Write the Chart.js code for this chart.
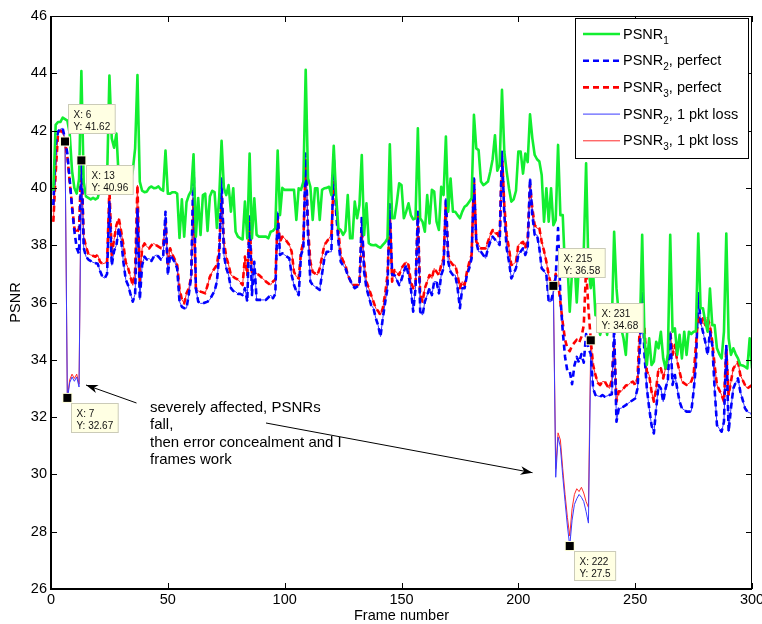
<!DOCTYPE html>
<html>
<head>
<meta charset="utf-8">
<title>PSNR per frame</title>
<script src="https://cdn.jsdelivr.net/npm/chart.js@4.4.1/dist/chart.umd.min.js"></script>
<style>
  html, body { margin: 0; padding: 0; background: #ffffff; }
  #box { width: 762px; height: 624px; }
</style>
</head>
<body>
<div id="box"><canvas id="psnr" width="762" height="624"></canvas></div>
<script>
// ---------------- data ----------------
// PSNR1, one value per frame (frames 1..300)
const psnr1 = [
  39.9,42.2,42.3,42.3,42.45,42.4,42.35,41.9,40.6,40.0,
  39.8,40.3,44.08,40.2,39.7,39.65,39.6,39.65,39.6,39.65,
  40.0,40.0,40.0,40.3,43.92,41.73,41.4,41.9,40.33,40.16,
  40.16,40.2,40.16,40.2,40.6,41.38,43.94,40.22,39.9,39.85,
  39.87,40.0,40.05,39.99,40.0,40.05,39.95,39.9,41.3,39.8,
  39.8,39.85,39.85,39.8,38.25,39.6,38.3,39.5,39.75,39.9,
  41.17,38.3,39.65,38.36,39.75,39.8,38.5,39.7,39.9,39.85,
  38.6,39.7,41.64,39.99,39.75,40.1,39.17,39.99,38.47,38.3,
  38.24,38.2,39.52,38.24,41.2,38.24,39.64,38.36,38.3,38.3,
  38.3,38.3,38.24,38.47,38.5,38.6,41.3,39.05,40.0,39.93,
  39.93,39.93,39.93,39.93,38.88,39.99,39.93,40.22,44.12,40.33,
  40.04,38.88,39.99,39.99,38.88,39.93,39.99,40.0,40.04,39.75,
  41.47,39.75,38.59,38.53,38.36,38.5,39.75,38.24,38.24,39.52,
  38.94,39.4,41.15,38.36,39.46,38.07,38.01,38.0,38.01,37.95,
  37.91,38.01,38.1,38.24,41.52,38.94,38.94,39.5,40.16,40.1,
  38.94,39.17,39.46,39.05,38.9,38.94,42.08,38.94,38.82,38.47,
  39.75,38.76,39.93,39.87,38.82,38.53,40.04,39.75,41.79,39.17,
  40.33,39.17,39.17,39.05,38.94,39.17,39.34,39.4,39.52,39.64,
  42.55,41.38,41.32,40.22,40.1,40.15,40.22,40.57,41.0,41.84,
  40.6,40.8,43.42,41.27,40.57,39.99,39.52,39.6,39.9,41.27,
  41.27,40.5,41.2,40.9,42.57,41.73,41.15,41.0,40.92,40.45,
  38.82,39.99,38.82,39.99,38.7,38.88,41.5,39.05,39.05,37.1,
  37.4,35.68,37.1,37.5,36.0,37.4,37.2,37.8,40.86,37.19,
  36.5,37.07,35.56,35.56,34.87,35.2,35.56,34.87,35.56,35.2,
  38.47,36.5,35.56,35.1,34.75,34.17,35.56,35.5,35.56,35.56,
  35.2,35.0,38.36,34.75,33.82,34.75,33.82,33.94,34.63,34.4,
  34.98,34.05,33.7,34.2,38.36,34.98,35.1,34.17,34.87,34.05,
  34.98,34.17,34.98,34.9,34.98,35.0,38.41,35.8,35.8,35.33,
  34.98,36.49,35.21,35.21,34.4,34.2,34.05,34.98,38.41,34.75,
  34.17,34.4,34.2,34.05,33.82,33.8,33.76,33.7,34.75,33.7
];

// PSNR2 without loss, [frame, dB]
const psnr2Perfect = [
  [1,39.4],[2,41.5],[3,41.96],[4,42.05],[5,42.08],[6,41.7],[7,41.2],[8,40.3],[9,39.3],[10,38.5],
  [11,37.9],[12,37.7],[13,41.0],[14,37.9],[15,37.6],[16,37.5],[18,37.4],[20,37.35],[21,37.1],[22,36.9],
  [23,36.85],[24,37.0],[25,39.5],[26,37.3],[27,37.8],[28,38.0],[29,38.6],[30,38.2],[31,37.4],[32,36.8],
  [33,36.6],[34,36.3],[35,36.03],[36,36.3],[37,39.3],[38,36.1],[39,37.3],[40,37.6],[41,37.5],[42,37.54],
  [43,37.45],[44,37.6],[45,37.66],[46,37.6],[47,37.5],[48,37.6],[49,39.17],[50,36.96],[51,37.66],[52,37.54],
  [53,37.4],[54,37.19],[55,36.03],[56,35.85],[57,35.8],[58,35.8],[59,36.3],[60,36.9],[61,40.92],[62,36.5],
  [63,36.03],[64,35.97],[65,35.97],[66,36.0],[67,36.03],[68,36.1],[69,36.26],[70,36.4],[71,36.73],[72,37.66],
  [73,40.33],[74,37.66],[75,37.2],[76,36.96],[77,36.5],[78,36.4],[79,36.38],[80,36.3],[81,36.3],[82,36.26],
  [83,36.5],[84,36.03],[85,39.0],[86,36.26],[87,37.42],[88,36.09],[89,36.09],[92,36.09],[94,36.26],[95,36.15],
  [96,36.3],[97,39.17],[98,37.66],[99,37.72],[100,37.66],[102,37.54],[103,36.96],[104,36.61],[105,36.4],[106,36.26],
  [107,37.66],[108,37.89],[109,41.2],[110,38.36],[111,36.73],[112,36.61],[114,36.5],[115,36.44],[116,37.0],[117,37.54],
  [118,37.77],[120,37.77],[121,41.15],[122,39.17],[123,38.12],[124,37.42],[125,37.3],[126,37.19],[127,36.96],[129,36.61],
  [130,36.5],[132,36.61],[133,38.99],[134,37.07],[135,36.5],[137,35.91],[138,35.8],[139,35.45],[140,35.2],[141,34.81],
  [142,35.45],[143,36.0],[144,36.5],[145,39.43],[146,36.96],[147,36.96],[149,36.61],[150,36.8],[151,37.07],[152,37.31],
  [153,36.96],[154,36.5],[155,35.68],[156,36.5],[157,39.17],[158,35.68],[159,35.56],[160,36.03],[161,36.26],[162,36.5],
  [163,36.26],[164,36.73],[165,36.73],[166,36.32],[167,36.96],[168,37.19],[169,39.64],[170,37.42],[171,37.07],[172,36.96],
  [173,36.96],[174,36.5],[175,35.8],[176,36.5],[177,36.5],[178,36.96],[179,37.2],[180,37.54],[181,40.33],[182,38.12],
  [183,37.77],[184,37.77],[186,37.54],[187,37.89],[188,38.12],[189,38.3],[190,38.2],[191,38.12],[192,38.01],[193,41.26],
  [194,39.05],[195,37.89],[196,37.42],[197,36.84],[198,37.0],[199,37.2],[200,37.66],[202,37.89],[203,37.66],[204,37.9],
  [205,40.33],[206,39.05],[207,38.36],[208,38.36],[209,37.89],[210,37.19],[211,37.1],[212,36.96],[213,36.03],[214,36.03],
  [215,36.4],[216,36.9],[217,38.6],[218,36.2],[219,35.0],[220,34.1],[221,33.6],[222,33.6],[223,33.15],[224,33.8],
  [225,34.1],[226,33.9],[227,34.2],[228,33.9],[229,34.9],[230,34.4],[231,34.2],[232,33.0],[233,32.77],[235,32.71],
  [236,32.77],[237,32.71],[239,32.77],[240,32.8],[241,35.1],[242,31.84],[243,32.3],[244,32.31],[246,32.42],[248,32.54],
  [250,32.65],[251,33.0],[252,34.4],[253,36.32],[254,34.17],[255,33.0],[256,32.31],[257,31.72],[258,31.43],[259,32.31],
  [260,33.12],[261,33.0],[262,32.54],[263,33.0],[264,33.3],[265,34.98],[266,33.12],[267,33.47],[268,33.0],[269,32.54],
  [270,32.31],[272,32.19],[274,32.19],[275,32.89],[276,33.8],[277,36.32],[278,35.33],[279,34.98],[280,34.63],[281,34.17],
  [282,34.98],[283,34.52],[284,33.0],[285,31.72],[286,31.6],[287,31.49],[288,31.84],[289,34.52],[290,31.49],[291,32.31],
  [292,33.0],[293,33.2],[294,33.35],[295,32.89],[296,32.6],[297,32.31],[298,32.19],[299,32.15],[300,32.12]
];

// PSNR3 without loss, [frame, dB]
const psnr3Perfect = [
  [1,38.82],[2,40.5],[3,41.9],[4,42.0],[5,41.95],[6,41.62],[7,41.1],[8,40.2],[9,39.4],[10,38.6],
  [11,38.4],[12,38.6],[13,40.96],[14,38.3],[15,37.95],[16,37.7],[17,37.66],[19,37.6],[20,37.66],[21,37.42],
  [22,37.35],[24,37.4],[25,39.98],[26,37.66],[27,38.2],[28,38.7],[29,38.94],[30,38.5],[31,38.0],[32,37.4],
  [33,37.2],[34,36.9],[35,36.6],[36,37.1],[37,40.1],[38,36.73],[39,37.9],[40,38.06],[41,37.95],[42,37.89],
  [43,38.0],[44,38.06],[45,38.0],[46,37.95],[47,37.9],[48,38.0],[49,38.82],[50,37.31],[51,37.89],[52,37.66],
  [53,37.5],[54,37.31],[55,36.5],[56,36.1],[57,35.97],[58,36.32],[59,36.5],[60,36.9],[61,39.6],[62,36.5],
  [63,36.4],[64,36.38],[66,36.32],[67,36.6],[68,36.9],[69,37.07],[71,37.31],[72,37.89],[73,39.75],[74,38.12],
  [75,37.6],[76,37.31],[77,36.96],[79,36.84],[80,36.8],[82,36.61],[83,37.6],[84,36.96],[85,38.82],[86,37.07],
  [87,37.07],[89,36.96],[92,36.73],[94,36.61],[95,36.73],[96,36.8],[97,38.94],[98,38.12],[99,38.3],[100,38.24],
  [102,38.01],[103,37.77],[104,37.07],[105,36.9],[106,36.84],[107,37.77],[108,38.12],[109,40.97],[110,38.59],[111,37.42],
  [112,37.07],[114,36.96],[115,37.19],[116,37.6],[117,38.01],[118,38.12],[120,38.36],[121,40.2],[122,39.52],[123,38.47],
  [124,37.66],[125,37.45],[126,37.31],[127,36.96],[129,36.61],[130,36.61],[132,36.61],[133,38.47],[134,37.42],[135,36.73],
  [137,36.26],[138,36.03],[139,35.8],[140,35.7],[141,35.56],[142,35.8],[143,36.3],[144,36.96],[145,39.05],[146,36.73],
  [147,37.13],[149,36.96],[150,37.2],[151,37.31],[152,37.42],[153,37.31],[154,36.73],[155,36.5],[156,36.61],[157,39.05],
  [158,36.26],[159,36.03],[160,36.5],[161,36.73],[162,36.96],[163,36.84],[164,37.19],[165,37.07],[166,36.96],[167,37.31],
  [168,37.54],[169,39.52],[170,37.66],[171,37.42],[172,37.31],[173,37.31],[174,36.96],[175,36.5],[176,36.73],[177,36.61],
  [178,37.07],[179,37.4],[180,37.66],[181,40.33],[182,38.12],[183,38.01],[184,37.89],[186,37.89],[187,38.12],[188,38.36],
  [189,38.53],[190,38.4],[191,38.42],[192,38.24],[193,41.2],[194,39.4],[195,38.36],[196,37.89],[197,37.31],[198,37.35],
  [199,37.42],[200,38.01],[202,38.12],[203,37.89],[204,38.2],[205,40.1],[206,39.29],[207,38.7],[208,38.59],[209,38.59],
  [210,38.12],[211,37.8],[212,37.42],[213,36.96],[214,36.61],[215,36.58],[216,37.0],[217,36.7],[218,36.0],[219,35.3],
  [220,34.7],[221,34.4],[222,34.3],[223,34.5],[224,34.6],[225,34.7],[226,34.6],[227,34.8],[228,35.2],[229,37.2],
  [230,35.8],[231,34.68],[232,33.82],[233,33.47],[234,33.2],[235,33.12],[236,33.24],[237,33.24],[238,33.1],[239,33.0],
  [240,33.3],[241,34.6],[242,32.54],[243,32.9],[244,32.89],[245,33.0],[246,33.1],[247,33.12],[248,33.2],[249,33.24],
  [250,33.12],[251,33.35],[252,35.21],[253,35.56],[254,35.1],[255,33.59],[256,33.47],[257,32.89],[258,32.54],[259,33.0],
  [260,33.7],[261,33.7],[262,33.35],[263,33.7],[264,34.0],[265,34.98],[266,34.17],[267,34.52],[268,33.94],[269,33.59],
  [270,33.24],[272,33.12],[274,33.24],[275,33.47],[276,34.5],[277,35.56],[278,35.21],[279,35.45],[280,35.21],[281,35.45],
  [282,35.21],[283,34.63],[284,33.82],[285,33.12],[287,32.77],[288,32.54],[289,34.4],[290,32.77],[291,33.24],[292,33.7],
  [294,33.93],[295,33.47],[297,33.12],[298,33.0],[300,33.12]
];

// Frames hit by the lost packet: values that replace the loss-free ones
const psnr2LostEarly = [[7,32.6],[8,33.2],[9,33.4],[10,33.25],[11,33.4],[12,33.05]];
const psnr3LostEarly = [[7,32.67],[8,33.3],[9,33.5],[10,33.35],[11,33.5],[12,33.15]];
const psnr2LostLate = [[216,29.9],[217,31.3],[218,30.95],[219,29.95],[220,29.05],[221,28.2],[222,27.5],
  [223,28.4],[224,28.95],[225,29.15],[226,29.3],[227,29.2],[228,29.05],[229,28.7],[230,28.3]];
const psnr3LostLate = [[216,30.2],[217,31.45],[218,31.2],[219,30.2],[220,29.3],[221,28.5],[222,27.85],
  [223,28.8],[224,29.3],[225,29.5],[226,29.4],[227,29.55],[228,29.35],[229,29.05],[230,28.85]];

// Axis ranges and ticks
const frameRange = [0, 300];
const psnrRange = [26, 46];
const frameStep = 50;
const psnrStep = 2;

// Series names shown in the legend: base, subscript, tail
const seriesBase = ['PSNR', 'PSNR', 'PSNR', 'PSNR', 'PSNR'];
const seriesSub = ['1', '2', '3', '2', '3'];
const seriesTail = ['', ', perfect', ', perfect', ', 1 pkt loss', ', 1 pkt loss'];

// Data tips: frame and the series (dataset index) they read from
const tipFrames = [6, 13, 7, 215, 231, 222];
const tipSeries = [4, 4, 4, 4, 4, 3];

// Text note with its two arrows
const noteLines = ['severely affected, PSNRs', 'fall,', 'then error concealment and I', 'frames work'];

// ---------------- layout ----------------
const FONT = '"Liberation Sans", Arial, Helvetica, sans-serif';
const tipBoxShift = [[3, -37], [5, 5], [4, 5], [5, -38], [5, -37], [4, 5]];
const noteAnchor = { x: 150, y: 411.5, lineGap: 17.6 };
const arrows = [
  { from: [136.5, 403], to: [86, 385] },
  { from: [266, 423], to: [532.5, 472.7] }
];
const legendBox = { x: 575, y: 18, w: 173, h: 140, firstRow: 34, rowGap: 26.7 };

// ---------------- helpers ----------------
function withLoss(base, ...segments) {
  const spans = segments.map(s => [s[0][0], s[s.length - 1][0]]);
  const kept = base.filter(([f]) => !spans.some(([a, b]) => f >= a && f <= b));
  return kept.concat(...segments).sort((p, q) => p[0] - q[0]);
}
const asXY = pts => pts.map(([x, y]) => ({ x, y }));

const psnr2Loss = withLoss(psnr2Perfect, psnr2LostEarly, psnr2LostLate);
const psnr3Loss = withLoss(psnr3Perfect, psnr3LostEarly, psnr3LostLate);

const datasets = [
  { data: psnr1.map((v, i) => ({ x: i + 1, y: v })), borderColor: '#12ee30', borderWidth: 2.6 },
  { data: asXY(psnr2Perfect), borderColor: '#0000ff', borderWidth: 2.6, borderDash: [6, 4] },
  { data: asXY(psnr3Perfect), borderColor: '#ff0000', borderWidth: 2.6, borderDash: [6, 4] },
  { data: asXY(psnr2Loss), borderColor: '#3a3aff', borderWidth: 1 },
  { data: asXY(psnr3Loss), borderColor: '#ff2a2a', borderWidth: 1 }
].map((d, i) => Object.assign(d, {
  label: seriesBase[i] + seriesSub[i] + seriesTail[i],
  fill: false, pointRadius: 0, tension: 0, borderJoinStyle: 'round'
}));

function arrowHead(ctx, x0, y0, x1, y1) {
  const a = Math.atan2(y1 - y0, x1 - x0);
  const len = 12, half = 4.2, notch = 3.5;
  const bx = x1 - len * Math.cos(a), by = y1 - len * Math.sin(a);
  const nx = x1 - (len - notch) * Math.cos(a), ny = y1 - (len - notch) * Math.sin(a);
  const px = -Math.sin(a) * half, py = Math.cos(a) * half;
  ctx.beginPath();
  ctx.moveTo(x1, y1);
  ctx.lineTo(bx + px, by + py);
  ctx.lineTo(nx, ny);
  ctx.lineTo(bx - px, by - py);
  ctx.closePath();
  ctx.fill();
}

const decorations = {
  id: 'decorations',
  beforeDraw(chart) {
    const ctx = chart.ctx;
    ctx.save();
    ctx.fillStyle = '#ffffff';
    ctx.fillRect(0, 0, chart.width, chart.height);
    ctx.restore();
  },
  afterDraw(chart) {
    const { ctx, chartArea: a, scales: { x, y } } = chart;
    ctx.save();

    // axes frame
    ctx.strokeStyle = '#000';
    ctx.lineWidth = 1;
    ctx.beginPath();
    ctx.moveTo(a.left, a.top + 0.5); ctx.lineTo(a.right, a.top + 0.5);
    ctx.moveTo(a.right - 0.5, a.top); ctx.lineTo(a.right - 0.5, a.bottom);
    ctx.stroke();
    ctx.lineWidth = 2;
    ctx.beginPath();
    ctx.moveTo(a.left, a.top); ctx.lineTo(a.left, a.bottom + 1);
    ctx.moveTo(a.left - 1, a.bottom); ctx.lineTo(a.right, a.bottom);
    ctx.stroke();

    // inward tick marks on all four sides
    ctx.lineWidth = 1;
    ctx.beginPath();
    y.ticks.forEach(t => {
      const py = Math.round(y.getPixelForValue(t.value)) + 0.5;
      ctx.moveTo(a.left, py); ctx.lineTo(a.left + 6, py);
      ctx.moveTo(a.right, py); ctx.lineTo(a.right - 6, py);
    });
    x.ticks.forEach(t => {
      const px = Math.round(x.getPixelForValue(t.value)) + 0.5;
      ctx.moveTo(px, a.bottom); ctx.lineTo(px, a.bottom - 6);
      ctx.moveTo(px, a.top); ctx.lineTo(px, a.top + 6);
    });
    ctx.stroke();

    // note and arrows
    ctx.fillStyle = '#000';
    ctx.font = '15px ' + FONT;
    ctx.textAlign = 'left';
    ctx.textBaseline = 'alphabetic';
    noteLines.forEach((s, i) => ctx.fillText(s, noteAnchor.x, noteAnchor.y + i * noteAnchor.lineGap));
    ctx.lineWidth = 1;
    arrows.forEach(ar => {
      ctx.beginPath();
      ctx.moveTo(ar.from[0], ar.from[1]);
      ctx.lineTo(ar.to[0], ar.to[1]);
      ctx.stroke();
      arrowHead(ctx, ar.from[0], ar.from[1], ar.to[0], ar.to[1]);
    });

    // data tips
    tipFrames.forEach((f, i) => {
      const pt = chart.data.datasets[tipSeries[i]].data.find(p => p.x === f);
      const mx = x.getPixelForValue(pt.x), my = y.getPixelForValue(pt.y);
      const l1 = 'X: ' + pt.x, l2 = 'Y: ' + (+pt.y.toFixed(2));
      ctx.font = '10px ' + FONT;
      const w = Math.max(ctx.measureText(l1).width, ctx.measureText(l2).width) + 10;
      const bx = Math.round(mx + tipBoxShift[i][0]) + 0.5, by = Math.round(my + tipBoxShift[i][1]) + 0.5;
      ctx.fillStyle = '#ffffe3';
      ctx.fillRect(bx, by, w, 29);
      ctx.strokeStyle = '#cbcbb8';
      ctx.lineWidth = 1;
      ctx.strokeRect(bx, by, w, 29);
      ctx.fillStyle = '#111';
      ctx.fillText(l1, bx + 5, by + 13);
      ctx.fillText(l2, bx + 5, by + 25);
      ctx.fillStyle = '#ffffd8';
      ctx.fillRect(mx - 5, my - 5, 10, 10);
      ctx.fillStyle = '#000';
      ctx.fillRect(mx - 4, my - 4, 8, 8);
    });

    // legend
    const L = legendBox;
    ctx.fillStyle = '#fff';
    ctx.fillRect(L.x, L.y, L.w, L.h);
    ctx.strokeStyle = '#000';
    ctx.lineWidth = 1;
    ctx.strokeRect(L.x + 0.5, L.y + 0.5, L.w, L.h);
    chart.data.datasets.forEach((ds, i) => {
      const ry = L.y - 18 + L.firstRow + i * L.rowGap;
      ctx.save();
      ctx.strokeStyle = ds.borderColor;
      ctx.lineWidth = ds.borderWidth;
      ctx.setLineDash(ds.borderDash || []);
      ctx.beginPath();
      ctx.moveTo(L.x + 8, ry); ctx.lineTo(L.x + 45, ry);
      ctx.stroke();
      ctx.restore();
      ctx.fillStyle = '#000';
      ctx.font = '14.5px ' + FONT;
      let tx = L.x + 48;
      ctx.fillText(seriesBase[i], tx, ry + 4.5);
      tx += ctx.measureText(seriesBase[i]).width;
      ctx.font = '10px ' + FONT;
      ctx.fillText(seriesSub[i], tx, ry + 9.5);
      tx += ctx.measureText(seriesSub[i]).width;
      ctx.font = '14.5px ' + FONT;
      ctx.fillText(seriesTail[i], tx, ry + 4.5);
    });

    ctx.restore();
  }
};

Chart.defaults.font.family = FONT;
Chart.defaults.font.size = 14.5;
Chart.defaults.color = '#000';

new Chart(document.getElementById('psnr'), {
  type: 'line',
  data: { datasets },
  options: {
    responsive: false,
    devicePixelRatio: 1,
    animation: false,
    events: [],
    layout: { padding: { left: 0, right: 10, top: 16, bottom: 0 } },
    plugins: { legend: { display: false }, tooltip: { enabled: false } },
    scales: {
      x: {
        type: 'linear', min: frameRange[0], max: frameRange[1],
        grid: { display: false, drawTicks: false },
        border: { display: false },
        ticks: { stepSize: frameStep, maxRotation: 0, autoSkip: false, padding: 2 },
        title: { display: true, text: 'Frame number', padding: { top: 0, bottom: -1 } },
        afterFit(s) { s.height = 35; s.paddingLeft = 0; s.paddingRight = 0; }
      },
      y: {
        type: 'linear', min: psnrRange[0], max: psnrRange[1],
        grid: { display: false, drawTicks: false },
        border: { display: false },
        ticks: { stepSize: psnrStep, padding: 4 },
        title: { display: true, text: 'PSNR', padding: { top: 7, bottom: 0 } },
        afterFit(s) { s.width = 51; s.paddingTop = 0; s.paddingBottom = 0; }
      }
    }
  },
  plugins: [decorations]
});
</script>
</body>
</html>
